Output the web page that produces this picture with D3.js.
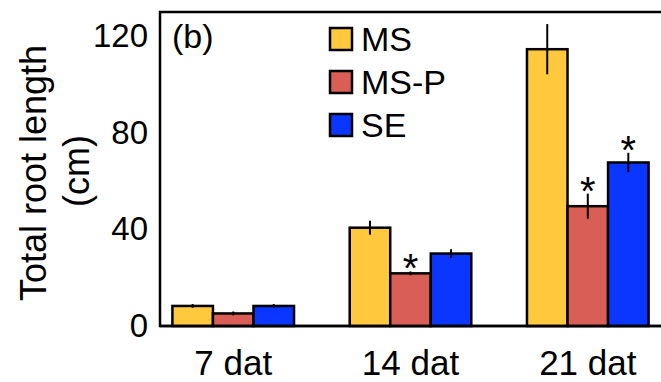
<!DOCTYPE html>
<html>
<head>
<meta charset="utf-8">
<script src="https://cdn.jsdelivr.net/npm/d3@7"></script>
<style>
  body { margin: 0; background: #fff; }
  text { font-family: "Liberation Sans", Arial, sans-serif; fill: #000; }
</style>
</head>
<body>
<div class="chart"></div>
<script>
// data
var categories = ["7 dat", "14 dat", "21 dat"];
var seriesNames = ["MS", "MS-P", "SE"];
var msValues = [8.3, 40.7, 114.6];
var msErrors = [0.8, 2.9, 10.4];
var mspValues = [5.2, 21.8, 49.6];
var mspErrors = [0.8, 0.8, 5.2];
var seValues = [8.3, 30.0, 67.7];
var seErrors = [0.8, 1.8, 4.0];
// 1 = marked with an asterisk
var mspSignif = [0, 1, 1];
var seSignif = [0, 0, 1];
var msSignif = [0, 0, 0];
var yTicks = [0, 40, 80, 120];

var colors = { "MS": "#ffc83d", "MS-P": "#d95f56", "SE": "#0a36ff" };

var svgWidth = 661;
var svgHeight = 382;

var margin = { top: 12, right: 0, bottom: 56, left: 160 };
var width = svgWidth - margin.left - margin.right;
var height = svgHeight - margin.top - margin.bottom;

var svg = d3.select(".chart")
  .append("svg")
  .attr("width", svgWidth)
  .attr("height", svgHeight);

var chartGroup = svg.append("g")
  .attr("transform", `translate(${margin.left}, ${margin.top})`);

// build rows from the arrays
var series = [
  { name: "MS", values: msValues, errors: msErrors, signif: msSignif },
  { name: "MS-P", values: mspValues, errors: mspErrors, signif: mspSignif },
  { name: "SE", values: seValues, errors: seErrors, signif: seSignif }
];
var rows = [];
categories.forEach(function (cat, i) {
  series.forEach(function (s) {
    rows.push({ cat: cat, name: s.name, value: s.values[i], err: s.errors[i], sig: s.signif[i] });
  });
});

// scales
var x0 = d3.scaleBand()
  .domain(categories)
  .range([0, width])
  .paddingInner(0.314)
  .paddingOuter(0.07);

var x1 = d3.scaleBand()
  .domain(seriesNames)
  .range([0, x0.bandwidth()]);

var yLinearScale = d3.scaleLinear()
  .domain([0, 130])
  .range([height, 0]);

// frame (top + left; right edge falls off the page)
chartGroup.append("rect")
  .attr("x", 0)
  .attr("y", 0)
  .attr("width", width + 2)
  .attr("height", height)
  .attr("fill", "none")
  .attr("stroke", "#000")
  .attr("stroke-width", 2.5);

// y axis
var leftAxis = d3.axisLeft(yLinearScale)
  .tickValues(yTicks)
  .tickSize(0)
  .tickPadding(12);

var yAxis = chartGroup.append("g")
  .call(leftAxis);
yAxis.select(".domain").remove();
yAxis.selectAll("text")
  .style("font-family", "'Liberation Sans', Arial, sans-serif")
  .style("font-size", "33px")
  .attr("fill", "#000");

// x axis
var bottomAxis = d3.axisBottom(x0)
  .tickSize(0)
  .tickPadding(24);

var xAxis = chartGroup.append("g")
  .attr("transform", `translate(0, ${height})`)
  .call(bottomAxis);
xAxis.select(".domain").remove();
xAxis.selectAll("text")
  .style("font-family", "'Liberation Sans', Arial, sans-serif")
  .style("font-size", "35px")
  .attr("fill", "#000");

// bars
var barGroup = chartGroup.append("g");
barGroup.selectAll("rect")
  .data(rows)
  .enter()
  .append("rect")
  .attr("x", d => x0(d.cat) + x1(d.name))
  .attr("y", d => yLinearScale(d.value))
  .attr("width", x1.bandwidth())
  .attr("height", d => height - yLinearScale(d.value))
  .attr("fill", d => colors[d.name])
  .attr("stroke", "#000")
  .attr("stroke-width", 2.5);

// error bars (no caps)
barGroup.selectAll("line.err")
  .data(rows)
  .enter()
  .append("line")
  .attr("class", "err")
  .attr("x1", d => x0(d.cat) + x1(d.name) + x1.bandwidth() / 2)
  .attr("x2", d => x0(d.cat) + x1(d.name) + x1.bandwidth() / 2)
  .attr("y1", d => yLinearScale(d.value - d.err))
  .attr("y2", d => yLinearScale(d.value + d.err))
  .attr("stroke", "#000")
  .attr("stroke-width", 2);

// asterisks
barGroup.selectAll("text.sig")
  .data(rows.filter(d => d.sig))
  .enter()
  .append("text")
  .attr("class", "sig")
  .attr("x", d => x0(d.cat) + x1(d.name) + x1.bandwidth() / 2)
  .attr("y", d => yLinearScale(d.value + d.err) + 11)
  .attr("text-anchor", "middle")
  .style("font-size", "40px")
  .text("*");

// baseline
chartGroup.append("line")
  .attr("x1", 0)
  .attr("x2", width + 2)
  .attr("y1", height)
  .attr("y2", height)
  .attr("stroke", "#000")
  .attr("stroke-width", 2.5);

// panel tag
chartGroup.append("text")
  .attr("x", 12)
  .attr("y", 36)
  .style("font-size", "34px")
  .text("(b)");

// legend
var legend = chartGroup.append("g")
  .attr("transform", "translate(170, 16)");

var legendItems = legend.selectAll("g")
  .data(seriesNames)
  .enter()
  .append("g")
  .attr("transform", (d, i) => `translate(0, ${i * 43})`);

legendItems.append("rect")
  .attr("width", 22)
  .attr("height", 22)
  .attr("fill", d => colors[d])
  .attr("stroke", "#000")
  .attr("stroke-width", 2.5);

legendItems.append("text")
  .attr("x", 31)
  .attr("y", 23)
  .style("font-size", "34px")
  .text(d => d);

// y axis title
var yTitle = svg.append("text")
  .attr("transform", `translate(0, ${margin.top + height / 2 + 4}) rotate(-90)`)
  .attr("text-anchor", "middle")
  .style("font-size", "36px");

yTitle.append("tspan")
  .attr("x", 0)
  .attr("y", 46)
  .text("Total root length");

yTitle.append("tspan")
  .attr("x", 2)
  .attr("y", 89)
  .text("(cm)");
</script>
</body>
</html>
